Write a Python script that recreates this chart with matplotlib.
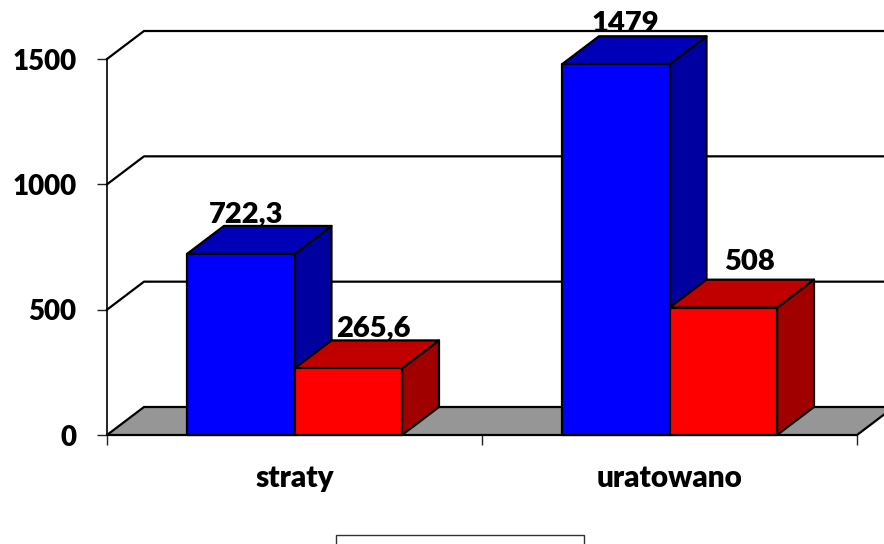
import matplotlib
matplotlib.use("Agg")
import matplotlib.pyplot as plt
from matplotlib.patches import Polygon, Rectangle

plt.rcParams['font.family'] = ['Lato', 'DejaVu Sans']

categories = ["straty", "uratowano"]
blue_values = [722.3, 1479]
red_values = [265.6, 508]
blue_labels = ["722,3", "1479"]
red_labels = ["265,6", "508"]
y_ticks = [0, 500, 1000, 1500]

W, H = 884, 544
fig = plt.figure(figsize=(W/100, H/100), dpi=100)
L, R, B, T = 107, 857, 435, 59
ax = fig.add_axes([L/W, 1-B/H, (R-L)/W, (B-T)/H])
ax.set_xlim(0, 2)
ax.set_ylim(0, 1500)
ax.patch.set_alpha(0)

px_x = (R-L)/2
px_y = (B-T)/1500
dx = 37/px_x
dy = 28/px_y
LW = 1.6
FS = 21
WEIGHT = 'heavy'

def poly(pts, fc, z=2, ec='black'):
    ax.add_patch(Polygon(pts, closed=True, fc=fc, ec=ec, lw=LW, zorder=z, clip_on=False, joinstyle='round'))

# floor
poly([(0, 0), (dx, dy), (2+dx, dy), (2, 0)], '#969696', z=1)
# grid on side wall and back wall
for t in y_ticks[1:]:
    ax.plot([0, dx, 2+dx], [t, t+dy, t+dy], color='black', lw=LW, zorder=1.5, clip_on=False)

def bar(x0, w, v, front, top, side, z):
    poly([(x0+w, 0), (x0+w+dx, dy), (x0+w+dx, v+dy), (x0+w, v)], side, z)
    poly([(x0, v), (x0+dx, v+dy), (x0+w+dx, v+dy), (x0+w, v)], top, z)
    poly([(x0, 0), (x0+w, 0), (x0+w, v), (x0, v)], front, z)

bw = 107.5/px_x
x_blue = [(187-L)/px_x, (562-L)/px_x]
for i in range(len(categories)):
    xb = x_blue[i]
    z = 3 + i*2
    bar(xb, bw, blue_values[i], '#0000FF', '#0000B8', '#0000A0', z)
    bar(xb+bw, bw, red_values[i], '#FF0000', '#C00000', '#A00000', z+1)

label_font = dict(fontsize=FS, fontweight=WEIGHT, color='black', zorder=20, clip_on=False,
                  ha='center', va='baseline', textcoords='offset pixels')
ax.annotate(blue_labels[0], xy=(x_blue[0], blue_values[0]), xytext=(59, 32), **label_font)
ax.annotate(red_labels[0], xy=(x_blue[0]+bw, red_values[0]), xytext=(79, 32), **label_font)
ax.annotate(blue_labels[1], xy=(x_blue[1], blue_values[1]), xytext=(63, 32), **label_font)
ax.annotate(red_labels[1], xy=(x_blue[1]+bw, red_values[1]), xytext=(80, 38), **label_font)

ax.set_yticks(y_ticks)
ax.set_xticks([0, 1, 2])
ax.set_xticklabels([])
ax.tick_params(axis='both', length=7, width=1.0, color='#222222')
ax.tick_params(axis='y', labelsize=20, pad=15)
for lab in ax.get_yticklabels():
    lab.set_fontweight(WEIGHT)
for s in ['top', 'right']:
    ax.spines[s].set_visible(False)
for s in ['left', 'bottom']:
    ax.spines[s].set_linewidth(1.2)
    ax.spines[s].set_zorder(2)

for i, c in enumerate(categories):
    ax.annotate(c, xy=(i+0.5, 0), xytext=(0, -43), textcoords='offset pixels',
                ha='center', va='center', fontsize=21.3, fontweight=WEIGHT)

# empty legend frame, cut by the lower edge
fig.add_artist(Rectangle((336/W, 1-560/H), 248/W, 25/H, transform=fig.transFigure,
                         fc='white', ec='#333333', lw=1))

fig.savefig("out.png", dpi=100)
